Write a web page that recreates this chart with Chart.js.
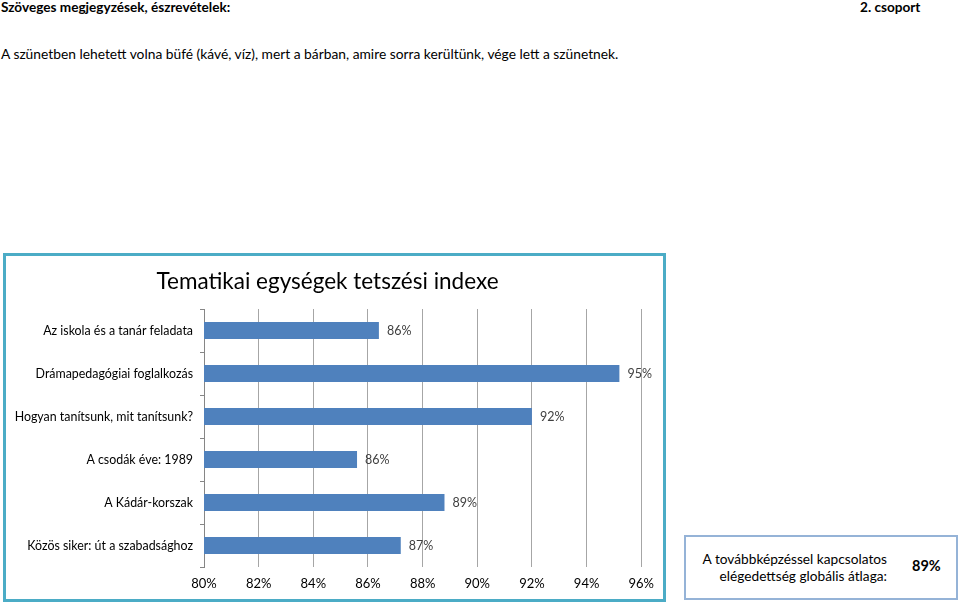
<!DOCTYPE html>
<html lang="hu">
<head>
<meta charset="UTF-8">
<title>Tematikai egységek tetszési indexe</title>
<script src="https://cdn.jsdelivr.net/npm/chart.js"></script>
<style>
  body { margin: 0; width: 960px; height: 606px; position: relative; background: #fff; font-family: Lato, "Noto Sans", sans-serif; color: #000; overflow: hidden; }
  .abs { position: absolute; white-space: nowrap; }
  #head1 { left: 1px; top: -1px; font-size: 13.6px; font-weight: bold; }
  #head2 { left: 860px; top: -1px; font-size: 13.6px; font-weight: bold; }
  #note { left: 1px; top: 45px; font-size: 13.8px; }
  #chartBox { left: 3px; top: 253px; width: 663px; height: 349px; border: 3px solid #4BACC6; box-sizing: border-box; }
  #avgBox { left: 684px; top: 535px; width: 274px; height: 65px; border: 2px solid #95B3D7; box-sizing: border-box; }
  #avgText { position: absolute; right: 69px; top: 13px; text-align: right; font-size: 13.7px; line-height: 17px; }
  #avgVal { position: absolute; left: 226px; top: 20px; font-size: 14.5px; font-weight: bold; }
</style>
</head>
<body>
<div class="abs" id="head1">Szöveges megjegyzések, észrevételek:</div>
<div class="abs" id="head2">2. csoport</div>
<div class="abs" id="note">A szünetben lehetett volna büfé (kávé, víz), mert a bárban, amire sorra kerültünk, vége lett a szünetnek.</div>

<div class="abs" id="chartBox">
  <canvas id="barChart" width="657" height="343"></canvas>
</div>

<div class="abs" id="avgBox">
  <div id="avgText">A továbbképzéssel kapcsolatos<br>elégedettség globális átlaga:</div>
  <div id="avgVal">89%</div>
</div>

<script>
// data
const categories = [
  'Az iskola és a tanár feladata',
  'Drámapedagógiai foglalkozás',
  'Hogyan tanítsunk, mit tanítsunk?',
  'A csodák éve: 1989',
  'A Kádár-korszak',
  'Közös siker: út a szabadsághoz'
];
const values = [0.864, 0.952, 0.920, 0.856, 0.888, 0.872];
const axisMin = 0.80;
const axisMax = 0.96;
const axisStep = 0.02;

const pct = v => Math.round(v * 100) + '%';

// value labels to the right of each bar
const barLabels = {
  id: 'barLabels',
  afterDatasetsDraw(chart) {
    const ctx = chart.ctx;
    const meta = chart.getDatasetMeta(0);
    ctx.save();
    ctx.font = '12.5px Lato, "Noto Sans", sans-serif';
    ctx.fillStyle = '#404040';
    ctx.textBaseline = 'middle';
    ctx.textAlign = 'left';
    meta.data.forEach((bar, i) => {
      ctx.fillText(pct(values[i]), bar.x + 8, bar.y);
    });
    ctx.restore();
  }
};

const ctx = document.getElementById('barChart');
const barChart = new Chart(ctx, {
  type: 'bar',
  data: {
    labels: categories,
    datasets: [{
      data: values,
      backgroundColor: '#4F81BD',
      borderWidth: 0,
      barPercentage: 0.4,
      categoryPercentage: 1
    }]
  },
  plugins: [barLabels],
  options: {
    indexAxis: 'y',
    responsive: false,
    animation: false,
    layout: { padding: { left: 0, right: 14, top: 0, bottom: 0 } },
    plugins: {
      legend: { display: false },
      tooltip: { enabled: false },
      title: {
        display: true,
        text: 'Tematikai egységek tetszési indexe',
        color: '#000',
        font: { family: 'Lato, "Noto Sans", sans-serif', size: 22.5, weight: 'normal', lineHeight: 1.2 },
        padding: { top: 12.5, bottom: 13.5 }
      }
    },
    scales: {
      x: {
        min: axisMin,
        max: axisMax,
        border: { display: false },
        grid: { color: '#a6a6a6', drawTicks: false },
        ticks: {
          stepSize: axisStep,
          padding: 9,
          color: '#000',
          font: { family: 'Lato, "Noto Sans", sans-serif', size: 13 },
          callback: v => pct(v)
        },
        afterFit: s => { s.height = 32; }
      },
      y: {
        border: { color: '#868686' },
        grid: { offset: true, drawOnChartArea: false, tickLength: 4, color: '#868686' },
        ticks: {
          padding: 7,
          color: '#000',
          font: { family: 'Lato, "Noto Sans", sans-serif', size: 12.4 }
        },
        afterFit: s => { s.width = 198; }
      }
    }
  }
});
</script>
</body>
</html>
